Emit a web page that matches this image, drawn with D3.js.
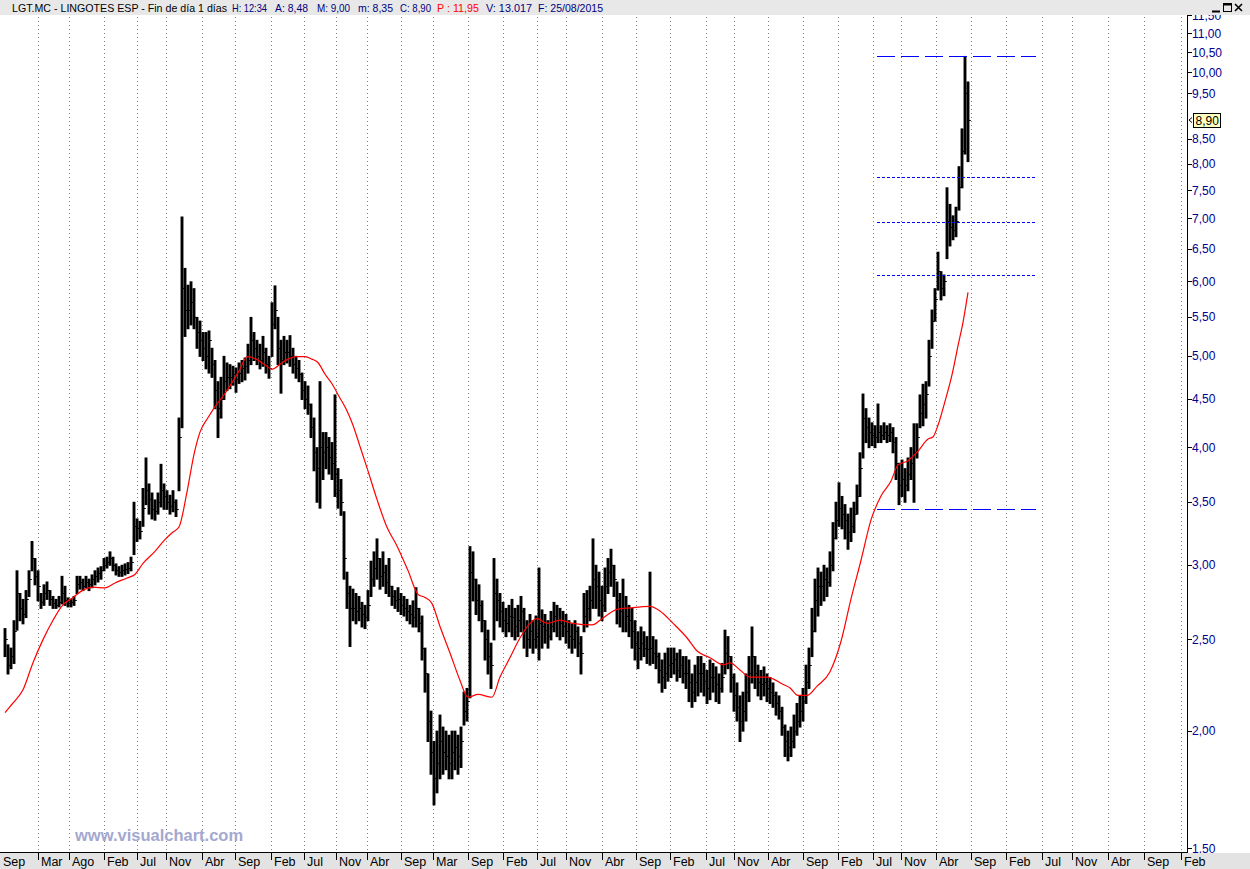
<!DOCTYPE html>
<html><head><meta charset="utf-8">
<script src="https://cdn.jsdelivr.net/npm/d3@7/dist/d3.min.js"></script>
<style>
html,body{margin:0;padding:0;background:#fff;}
svg{display:block;}
text{font-family:"Liberation Sans",Arial,sans-serif;}
</style></head><body>
<svg id="chart" width="1250" height="869"></svg>
<script>
// ---- data ----
const lows = [
2.40,2.30,2.33,2.36,2.56,2.62,2.60,2.64,2.78,2.96,
2.86,2.75,2.70,2.72,2.76,2.72,2.70,2.70,2.71,2.73,
2.72,2.71,2.71,2.72,2.80,2.83,2.82,2.84,2.82,2.84,
2.86,2.88,2.90,2.96,2.98,3.00,2.96,2.93,2.92,2.92,
2.93,2.94,2.96,3.08,3.18,3.20,3.30,3.48,3.40,3.36,
3.35,3.40,3.46,3.44,3.44,3.40,3.42,3.38,3.60,4.20,
5.25,5.35,5.40,5.35,5.10,5.00,4.95,4.85,4.80,4.75,
4.40,4.10,4.30,4.50,4.60,4.62,4.66,4.58,4.68,4.70,
4.72,4.80,4.90,4.95,4.90,4.85,4.88,4.80,4.74,5.00,
5.35,4.90,4.57,4.90,4.92,4.88,4.80,4.74,4.70,4.50,
4.40,4.34,4.10,3.78,3.50,3.45,3.70,3.80,3.75,3.70,
3.55,3.45,3.39,2.90,2.70,2.46,2.62,2.60,2.62,2.58,
2.57,2.62,2.78,2.85,2.90,2.83,2.85,2.80,2.78,2.72,
2.70,2.68,2.66,2.65,2.62,2.60,2.58,2.58,2.55,2.38,
2.20,1.95,1.80,1.67,1.72,1.78,1.80,1.82,1.78,1.78,
1.82,1.80,1.83,2.03,2.05,2.17,2.75,2.66,2.62,2.55,
2.38,2.30,2.22,2.50,2.62,2.58,2.55,2.52,2.55,2.52,
2.50,2.52,2.55,2.45,2.40,2.45,2.42,2.45,2.38,2.45,
2.48,2.45,2.50,2.55,2.52,2.50,2.52,2.48,2.45,2.42,
2.45,2.40,2.30,2.55,2.58,2.62,2.70,2.70,2.65,2.62,
2.68,2.80,2.85,2.78,2.60,2.58,2.55,2.55,2.52,2.45,
2.38,2.33,2.38,2.40,2.36,2.35,2.36,2.33,2.25,2.20,
2.22,2.26,2.28,2.30,2.26,2.28,2.25,2.22,2.15,2.12,
2.15,2.18,2.20,2.18,2.14,2.16,2.20,2.15,2.14,2.20,
2.30,2.33,2.20,2.10,2.05,1.95,2.00,2.05,2.15,2.25,
2.22,2.18,2.16,2.18,2.15,2.14,2.12,2.08,2.06,1.98,
1.88,1.86,1.88,1.92,1.98,2.02,2.05,2.14,2.22,2.40,
2.55,2.65,2.72,2.75,2.78,2.85,2.96,3.20,3.30,3.28,
3.20,3.12,3.18,3.25,3.40,3.55,3.90,4.05,4.00,4.02,
4.00,4.05,4.05,4.08,4.05,4.06,3.95,3.70,3.48,3.55,
3.50,3.60,3.70,3.50,3.90,4.20,4.22,4.30,4.65,5.10,
5.45,5.88,5.74,5.80,6.35,6.55,6.65,6.70,7.15,7.55,
8.20,8.05];
const highs = [
2.57,2.47,2.45,2.62,2.96,2.80,2.76,2.82,2.96,3.18,
3.05,2.96,2.80,2.86,2.88,2.82,2.78,2.76,2.78,2.92,
2.85,2.77,2.76,2.78,2.92,2.92,2.90,2.92,2.90,2.93,
2.96,2.98,2.99,3.05,3.06,3.10,3.06,3.01,2.99,3.00,
3.01,3.02,3.06,3.50,3.36,3.34,3.62,3.90,3.66,3.58,
3.52,3.58,3.84,3.66,3.60,3.56,3.60,3.52,4.30,7.03,
6.20,5.95,6.00,5.90,5.50,5.45,5.30,5.30,5.32,5.10,
4.95,4.70,4.75,5.00,4.92,4.90,4.88,4.86,4.92,4.95,
4.98,5.15,5.50,5.30,5.20,5.15,5.25,5.10,5.00,5.70,
5.94,5.50,5.20,5.25,5.20,5.26,5.10,5.00,4.95,4.80,
4.70,4.65,4.45,4.30,4.00,4.70,4.15,4.15,4.10,4.05,
4.55,3.80,3.70,3.42,2.95,2.85,2.83,2.80,2.78,2.74,
2.72,2.82,3.03,3.10,3.20,3.05,3.10,3.00,3.05,2.85,
2.82,2.84,2.80,2.78,2.76,2.72,2.75,2.84,2.70,2.65,
2.45,2.30,2.10,1.95,2.00,2.08,2.02,2.00,1.98,2.00,
2.00,1.98,2.02,2.20,2.22,3.14,3.10,2.90,2.86,2.75,
2.62,2.56,2.48,3.05,2.90,2.80,2.74,2.70,2.72,2.76,
2.70,2.72,2.78,2.70,2.62,2.66,2.62,2.65,2.98,2.69,
2.66,2.62,2.68,2.74,2.72,2.70,2.68,2.66,2.62,2.60,
2.62,2.58,2.52,2.80,2.82,2.85,3.20,3.00,2.95,2.85,
2.98,3.05,3.12,3.00,2.88,2.80,2.90,2.78,2.72,2.70,
2.62,2.55,2.58,2.55,2.52,2.95,2.52,2.50,2.42,2.38,
2.42,2.45,2.45,2.45,2.42,2.44,2.40,2.40,2.38,2.30,
2.35,2.40,2.40,2.36,2.32,2.38,2.36,2.34,2.30,2.36,
2.56,2.52,2.40,2.30,2.25,2.18,2.20,2.30,2.40,2.58,
2.40,2.35,2.32,2.34,2.30,2.28,2.25,2.20,2.18,2.12,
2.03,2.00,2.02,2.08,2.14,2.18,2.22,2.35,2.45,2.70,
2.90,2.98,2.95,3.00,2.98,3.10,3.33,3.50,3.67,3.55,
3.48,3.40,3.45,3.50,3.65,3.95,4.56,4.40,4.30,4.25,
4.22,4.45,4.22,4.25,4.22,4.24,4.20,4.10,3.85,3.88,
3.80,3.90,4.00,4.24,4.24,4.55,4.67,4.70,5.20,5.60,
5.90,6.45,6.15,6.10,7.55,7.25,7.05,7.20,7.95,8.72,
10.41,9.78];
const closes = [
2.50,2.35,2.40,2.55,2.80,2.70,2.66,2.76,2.90,3.05,
2.92,2.85,2.74,2.80,2.82,2.76,2.73,2.72,2.74,2.80,
2.75,2.73,2.74,2.75,2.86,2.88,2.85,2.88,2.86,2.90,
2.92,2.94,2.96,3.00,3.02,3.05,3.00,2.96,2.95,2.96,
2.97,2.98,3.02,3.30,3.28,3.26,3.45,3.60,3.52,3.44,
3.42,3.50,3.60,3.55,3.50,3.46,3.50,3.44,4.10,5.90,
5.60,5.60,5.70,5.50,5.30,5.20,5.10,5.00,5.20,4.90,
4.60,4.40,4.50,4.70,4.75,4.75,4.78,4.72,4.80,4.85,
4.88,4.95,5.20,5.10,5.00,4.95,5.05,4.90,4.85,5.40,
5.60,5.10,4.95,5.05,5.05,5.00,4.90,4.85,4.78,4.60,
4.50,4.45,4.20,3.95,3.80,4.00,3.95,4.00,3.90,3.85,
3.75,3.60,3.50,3.05,2.80,2.70,2.70,2.68,2.70,2.66,
2.64,2.72,2.90,2.98,3.05,2.92,2.95,2.88,2.85,2.78,
2.75,2.76,2.72,2.70,2.68,2.66,2.64,2.70,2.60,2.45,
2.30,2.05,1.90,1.78,1.85,1.95,1.90,1.88,1.85,1.90,
1.92,1.88,1.95,2.10,2.15,2.95,2.90,2.75,2.72,2.62,
2.50,2.40,2.35,2.80,2.75,2.68,2.62,2.60,2.65,2.64,
2.58,2.62,2.68,2.55,2.50,2.55,2.50,2.52,2.60,2.58,
2.56,2.52,2.58,2.65,2.62,2.60,2.58,2.55,2.52,2.50,
2.55,2.48,2.42,2.65,2.70,2.75,2.90,2.85,2.75,2.72,
2.85,2.95,3.00,2.90,2.75,2.68,2.70,2.65,2.62,2.55,
2.48,2.45,2.48,2.45,2.44,2.45,2.42,2.40,2.32,2.28,
2.30,2.35,2.36,2.38,2.32,2.35,2.30,2.30,2.25,2.20,
2.25,2.30,2.30,2.26,2.22,2.28,2.28,2.24,2.22,2.28,
2.42,2.40,2.28,2.18,2.12,2.05,2.10,2.20,2.30,2.40,
2.30,2.25,2.24,2.25,2.22,2.20,2.18,2.14,2.10,2.02,
1.95,1.92,1.95,2.00,2.05,2.10,2.15,2.25,2.35,2.55,
2.75,2.85,2.85,2.90,2.88,3.00,3.20,3.35,3.45,3.40,
3.35,3.25,3.30,3.40,3.55,3.80,4.30,4.20,4.15,4.12,
4.10,4.15,4.12,4.15,4.12,4.15,4.05,3.85,3.65,3.70,
3.65,3.75,3.85,3.95,4.10,4.35,4.45,4.55,5.00,5.45,
5.75,6.15,5.90,6.00,6.95,6.85,6.80,6.95,7.55,8.25,
9.50,8.90];

// red moving average, read at these bar slots
const maAt = [0,2.7,6,9.3,12.7,16,19.3,22.7,26,29.3,33.3,36.7,40.7,43.3,46,50,53.3,56,58,60.7,63,65,67.7,70.3,73.3,76,78.3,80.7,83.7,86.7,89,91.7,94.3,97,100,102.3,104.3,106.7,109,111.3,113.7,116,118.3,120.7,124,127.3,130.7,134.3,137.7,140,142.3,145,148.3,151.7,154.3,157.7,162.3,165,168.3,171.7,175,177.3,180.7,185,189.3,195.7,199,204,208.3,215,218.3,222.7,227.3,230.7,235,239.3,241.7,245,248.3,254,259.3,261.7,264.3,267.3,270.7,275,278.7,282,285.3,288.7,292,295.3,297.7,301,304.3,307.7,309.3,311,313.3,315.7,317.7,319.3,321];
const maValues = [2.09,2.14,2.21,2.36,2.50,2.62,2.72,2.77,2.82,2.84,2.835,2.87,2.905,2.93,3.01,3.10,3.19,3.25,3.29,3.59,3.93,4.15,4.30,4.43,4.56,4.70,4.84,4.99,4.96,4.89,4.84,4.90,4.96,4.99,4.99,4.96,4.92,4.78,4.67,4.53,4.39,4.22,4.01,3.80,3.52,3.29,3.14,2.96,2.79,2.77,2.73,2.58,2.42,2.26,2.17,2.185,2.17,2.28,2.39,2.51,2.60,2.63,2.60,2.62,2.60,2.59,2.63,2.69,2.70,2.71,2.68,2.60,2.51,2.43,2.39,2.35,2.36,2.32,2.28,2.28,2.24,2.22,2.18,2.18,2.23,2.31,2.49,2.76,3.03,3.35,3.55,3.68,3.83,3.87,3.96,4.08,4.10,4.22,4.47,4.78,5.13,5.42,5.84];

// 9,00 is hidden behind the last-price box in the reference
const priceTicks = [11.5,11,10.5,10,9.5,8.5,8,7.5,7,6.5,6,5.5,5,4.5,4,3.5,3,2.5,2,1.5];
const monthLabels = ["Sep","Mar","Ago","Feb","Jul","Nov","Abr","Sep","Feb","Jul","Nov","Abr","Sep","Mar","Sep","Feb","Jul","Nov","Abr","Sep","Feb","Jul","Nov","Abr","Sep","Feb","Jul","Nov","Abr","Sep","Feb","Jul","Nov","Abr","Sep","Feb"];
const monthAt = [-1.7,11.1,21.4,33.1,44.1,53.8,65.5,76.7,88.5,99.8,110.2,120.8,132.0,142.7,154.3,165.9,177.3,187.0,198.9,210.2,221.7,233.6,243.1,254.5,266.1,277.7,289.2,298.8,310.2,322.1,333.8,345.8,355.7,367.7,379.7,392.0];

const fibLevels = [10.41, 7.75, 6.93, 6.10, 3.44];
const fibSpan = [290.7, 343.7];
const lastPrice = 8.90;

const titleParts = [
  {t:"LGT.MC - LINGOTES ESP - Fin de día 1 días", c:"#000000", x:12, w:215},
  {t:"H: 12:34", c:"#000080", x:232, w:35},
  {t:"A: 8,48", c:"#000080", x:275, w:33},
  {t:"M: 9,00", c:"#000080", x:317, w:33},
  {t:"m: 8,35", c:"#000080", x:358, w:35},
  {t:"C: 8,90", c:"#000080", x:400, w:31},
  {t:"P : 11,95", c:"#ff0000", x:437, w:42},
  {t:"V: 13.017", c:"#000080", x:486, w:46},
  {t:"F: 25/08/2015", c:"#000080", x:538, w:65}
];

// ---- layout ----
const W = 1250, H = 869;
const axisX = 1187, plotTop = 17, plotBottom = 853;
const svg = d3.select("#chart");
const x = d3.scaleLinear().domain([0, 394]).range([5, axisX]);
const y = d3.scaleLog().domain([1.4865, 11.45]).range([852, 17]);
const fmt = v => v.toFixed(2).replace(".", ",");

svg.append("rect").attr("width", W).attr("height", H).attr("fill", "#ffffff");

// vertical dotted gridlines
svg.append("g").selectAll("line").data(monthAt.filter(m => x(m) > 2 && x(m) < axisX))
  .join("line")
  .attr("x1", d => Math.round(x(d)) + 0.5).attr("x2", d => Math.round(x(d)) + 0.5)
  .attr("y1", plotTop).attr("y2", plotBottom - 1)
  .attr("stroke", "#808080").attr("stroke-width", 1).attr("stroke-dasharray", "1,3");

// price bars
const bars = svg.append("g");
bars.selectAll("line.bar").data(highs).join("line").attr("class", "bar")
  .attr("x1", (d, i) => x(i)).attr("x2", (d, i) => x(i))
  .attr("y1", d => y(d)).attr("y2", (d, i) => y(lows[i]) + 1)
  .attr("stroke", "#000").attr("stroke-width", 2.9);
bars.selectAll("line.cl").data(closes).join("line").attr("class", "cl")
  .attr("x1", (d, i) => x(i)).attr("x2", (d, i) => x(i) + 2.8)
  .attr("y1", d => Math.round(y(d)) + 0.5).attr("y2", d => Math.round(y(d)) + 0.5)
  .attr("stroke", "#000").attr("stroke-width", 1);

// moving average
const maLine = d3.line().x(d => x(d[0])).y(d => y(d[1])).curve(d3.curveMonotoneX);
svg.append("path").datum(maAt.map((a, i) => [a, maValues[i]]))
  .attr("d", maLine).attr("fill", "none").attr("stroke", "#ff0000").attr("stroke-width", 1.2);

// fibonacci lines
svg.append("g").attr("shape-rendering", "crispEdges").selectAll("line").data(fibLevels).join("line")
  .attr("x1", x(fibSpan[0])).attr("x2", x(fibSpan[1]))
  .attr("y1", d => Math.round(y(d)) + 0.5).attr("y2", d => Math.round(y(d)) + 0.5)
  .attr("stroke", "#0000ff").attr("stroke-width", 1)
  .attr("stroke-dasharray", (d, i) => (i === 0 || i === fibLevels.length - 1) ? "18,6" : "3,2");

// watermark
svg.append("text").attr("x", 75).attr("y", 841).text("www.visualchart.com")
  .attr("font-size", 16.5).attr("font-weight", "bold").attr("fill", "#a4a8d0");

// right axis
svg.append("line").attr("x1", axisX + 0.5).attr("x2", axisX + 0.5).attr("y1", 15).attr("y2", plotBottom)
  .attr("stroke", "#000").attr("stroke-width", 1);
const yt = svg.append("g");
yt.selectAll("line").data(priceTicks).join("line")
  .attr("x1", axisX).attr("x2", axisX + 5)
  .attr("y1", d => Math.round(y(d)) + 0.5).attr("y2", d => Math.round(y(d)) + 0.5)
  .attr("stroke", "#000");
yt.selectAll("text").data(priceTicks).join("text")
  .attr("x", axisX + 5).attr("y", d => y(d) + 4.5)
  .attr("font-size", 12).attr("fill", "#000090").text(fmt);

// current price marker
const yl = y(lastPrice);
svg.append("path").attr("d", `M${axisX + 5},${yl - 2.5} L${axisX + 2},${yl} L${axisX + 5},${yl + 2.5}`)
  .attr("fill", "none").attr("stroke", "#000").attr("stroke-width", 1);
svg.append("rect").attr("x", axisX + 6.5).attr("y", Math.round(yl) - 6.5).attr("width", 27).attr("height", 14)
  .attr("fill", "#ffffc0").attr("stroke", "#000").attr("stroke-width", 1);
svg.append("text").attr("x", axisX + 8.5).attr("y", yl + 4.5).attr("font-size", 12).attr("fill", "#000").text(fmt(lastPrice));

// bottom axis band
svg.append("rect").attr("x", 0).attr("y", plotBottom).attr("width", W).attr("height", H - plotBottom).attr("fill", "#e3e3e3");
svg.append("line").attr("x1", 0).attr("x2", axisX + 1).attr("y1", plotBottom - 0.5).attr("y2", plotBottom - 0.5)
  .attr("stroke", "#000");
const xt = svg.append("g");
xt.selectAll("line").data(monthAt.filter(m => x(m) > 2)).join("line")
  .attr("x1", d => Math.round(x(d)) + 0.5).attr("x2", d => Math.round(x(d)) + 0.5)
  .attr("y1", plotBottom).attr("y2", plotBottom + 7).attr("stroke", "#000");
xt.selectAll("text").data(monthLabels).join("text")
  .attr("x", (d, i) => Math.max(2, Math.round(x(monthAt[i])) + 3)).attr("y", 866)
  .attr("font-size", 12.5).attr("fill", "#000").text(d => d);

// title bar
svg.append("rect").attr("x", 0).attr("y", 0).attr("width", W).attr("height", 15).attr("fill", "#e8e8e8");
svg.append("g").selectAll("text").data(titleParts).join("text")
  .attr("x", d => d.x).attr("y", 11.5).attr("font-size", 11).attr("fill", d => d.c)
  .attr("textLength", d => d.w).attr("lengthAdjust", "spacingAndGlyphs").text(d => d.t);

// window buttons
const btn = svg.append("g").attr("stroke", "#000").attr("fill", "none");
btn.append("line").attr("x1", 1212).attr("x2", 1220).attr("y1", 11.5).attr("y2", 11.5).attr("stroke-width", 2);
btn.append("rect").attr("x", 1223.5).attr("y", 3.5).attr("width", 8).attr("height", 8).attr("stroke-width", 1);
btn.append("line").attr("x1", 1223.5).attr("x2", 1231.5).attr("y1", 4.5).attr("y2", 4.5).attr("stroke-width", 2);
btn.append("path").attr("d", "M1235,4 L1242,11 M1242,4 L1235,11").attr("stroke-width", 1.6);
</script>
</body></html>
